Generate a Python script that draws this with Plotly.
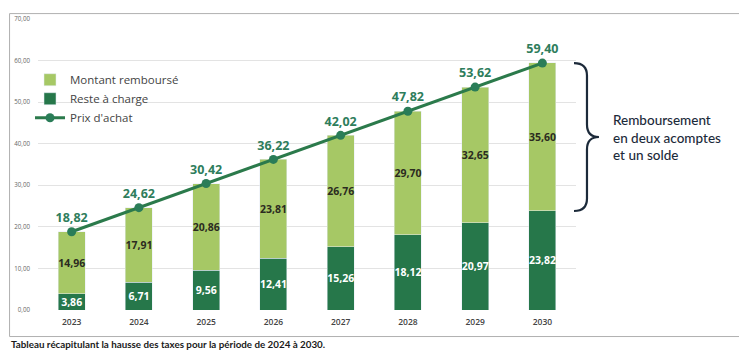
import plotly.graph_objects as go

years = ["2023", "2024", "2025", "2026", "2027", "2028", "2029", "2030"]
reste_a_charge = [3.86, 6.71, 9.56, 12.41, 15.26, 18.12, 20.97, 23.82]
montant_rembourse = [14.96, 17.91, 20.86, 23.81, 26.76, 29.70, 32.65, 35.60]
prix_achat = [18.82, 24.62, 30.42, 36.22, 42.02, 47.82, 53.62, 59.40]
y_ticks = [0, 10, 20, 30, 40, 50, 60, 70]

LIGHT = "#a6c865"
DARK = "#26774a"
LINE = "#2b7a4b"
MARK = "#2a7d58"
NAVY = "#1c2a3a"
FONT = "Open Sans"

# page body has an 8px margin; screen px -> paper helpers (plot area 37..576 x, 14..310 y on screen)
def px(sx):
    return (sx - 37) / 539

def py(sy):
    return (310 - sy) / 296

fig = go.Figure()
fig.add_trace(go.Bar(
    x=years, y=reste_a_charge, name="Reste à charge", marker_color=DARK,
    texttemplate="%{y:.2f}", textposition="inside", insidetextanchor="middle",
    textangle=0, constraintext="none",
    textfont=dict(family=FONT, size=10.5, color="white", weight="bold"),
    legendrank=2, width=0.4,
))
fig.add_trace(go.Bar(
    x=years, y=montant_rembourse, name="Montant remboursé", marker_color=LIGHT,
    texttemplate="%{y:.2f}", textposition="inside", insidetextanchor="middle",
    textangle=0, constraintext="none",
    textfont=dict(family=FONT, size=10.5, color="#2b2b1f", weight="bold"),
    legendrank=1, width=0.4,
))
fig.add_trace(go.Scatter(
    x=years, y=prix_achat, name="Prix d'achat", mode="lines+markers+text",
    line=dict(color=LINE, width=3), marker=dict(color=MARK, size=9),
    texttemplate="%{y:.2f}", textposition="top center",
    textfont=dict(family=FONT, size=12.5, color="#2e7d5c", weight="bold"),
    cliponaxis=False, legendrank=3,
))

# brace spanning the 2030 refund
top = prix_achat[-1]
bot = reste_a_charge[-1]
mid = (top + bot) / 2
r = 3.0
x0, x1, xt = px(574), px(587), px(599)
path = (f"M {x0},{top} Q {x1},{top} {x1},{top - r} L {x1},{mid + r} "
        f"Q {x1},{mid} {xt},{mid} Q {x1},{mid} {x1},{mid - r} "
        f"L {x1},{bot + r} Q {x1},{bot} {x0},{bot}")

fig.update_layout(
    width=739, height=352,
    margin=dict(l=29, r=171, t=6, b=50),
    paper_bgcolor="white", plot_bgcolor="white",
    barmode="stack", separators=", ",
    font=dict(family=FONT, color="#444"),
    showlegend=True,
    legend=dict(
        x=px(29), y=py(61), xanchor="left", yanchor="top",
        traceorder="normal", bgcolor="rgba(0,0,0,0)",
        font=dict(family=FONT, size=11.5, color="#444"),
        itemwidth=30, tracegroupgap=0,
    ),
    xaxis=dict(
        showgrid=False, showline=False, ticks="", ticklabelstandoff=5,
        tickfont=dict(family=FONT, size=8.5, color="#444", weight=600),
    ),
    yaxis=dict(
        range=[0, 70], tickvals=y_ticks, tickformat=".2f",
        showgrid=True, gridcolor="#e3e3e3", gridwidth=1,
        zeroline=False, showline=False, ticks="", ticklabelstandoff=7,
        tickfont=dict(family=FONT, size=6.2, color="#666"),
    ),
    shapes=[
        dict(type="path", xref="paper", yref="y", path=path,
             line=dict(color=NAVY, width=2.2)),
        dict(type="rect", xref="paper", yref="paper",
             x0=px(8.5), x1=px(745),
             y0=py(337), y1=py(8.5),
             line=dict(color="#b0b0b0", width=1), layer="below"),
    ],
    annotations=[
        dict(xref="paper", yref="y", x=px(611), y=mid,
             xanchor="left", yanchor="middle", align="left", showarrow=False,
             text="Remboursement<br>en deux acomptes<br>et un solde",
             font=dict(family="Lato", size=13.5, color=NAVY, weight=500)),
        dict(xref="paper", yref="paper", x=px(8), y=py(345),
             xanchor="left", yanchor="middle", showarrow=False,
             text="Tableau récapitulant la hausse des taxes pour la période de 2024 à 2030.",
             font=dict(family="Lato", size=9.8, color="#1a1a1a", weight="bold")),
    ],
)

fig.write_html("out.html")
